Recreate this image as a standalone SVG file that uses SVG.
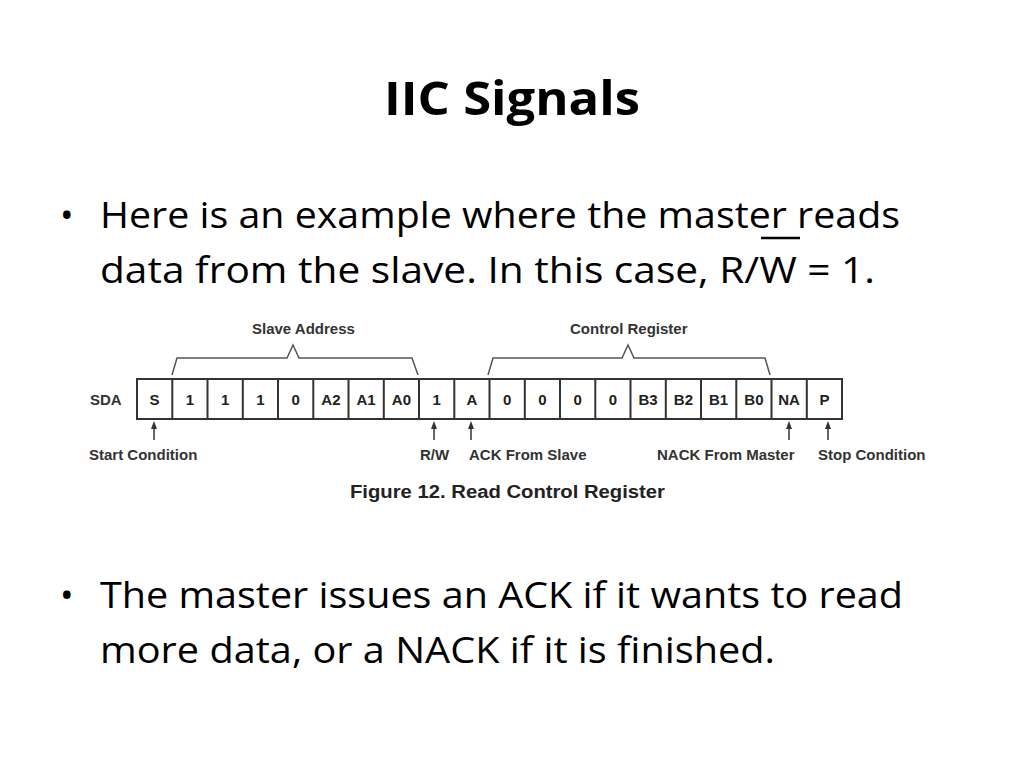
<svg xmlns="http://www.w3.org/2000/svg" width="1024" height="768" viewBox="0 0 1024 768">
<style>
.t{font-family:"Open Sans","Liberation Sans",sans-serif;font-size:36px;fill:#000}
.f{font-family:"Liberation Sans",Arial,sans-serif;font-weight:bold;font-size:15px;fill:#333}
.c{font-family:"Liberation Sans",Arial,sans-serif;font-weight:bold;font-size:15px;fill:#222;text-anchor:middle}
.b{fill:#fff;stroke:#333;stroke-width:2}
.l{fill:none;stroke:#555;stroke-width:1.5}
</style>
<rect width="1024" height="768" fill="#fff"/>
<text x="512" y="115" text-anchor="middle" font-family="Open Sans,Liberation Sans,sans-serif" font-weight="bold" font-size="46" textLength="256" lengthAdjust="spacingAndGlyphs">IIC Signals</text>
<text class="t" x="60" y="228">•</text>
<text class="t" x="100" y="228" textLength="800" lengthAdjust="spacingAndGlyphs">Here is an example where the master reads</text>
<text class="t" x="100" y="283" textLength="775" lengthAdjust="spacingAndGlyphs">data from the slave.  In this case, R/W = 1.</text>
<line x1="761" y1="238" x2="800" y2="238" stroke="#000" stroke-width="2.5"/>
<text class="t" x="60" y="608">•</text>
<text class="t" x="100" y="608" textLength="803" lengthAdjust="spacingAndGlyphs">The master issues an ACK if it wants to read</text>
<text class="t" x="100" y="663" textLength="675" lengthAdjust="spacingAndGlyphs">more data, or a NACK if it is finished.</text>
<g id="braces" class="l">
<path d="M172,375 L177,358 L287,358 L293,345 L299,358 L412,358 L418,375"/>
<path d="M488,375 L493,358 L622,358 L628,345 L634,358 L765,358 L770,375"/>
</g>
<text class="f" x="252" y="334">Slave Address</text>
<text class="f" x="570" y="334">Control Register</text>
<text class="f" x="90" y="405">SDA</text>
<g id="cells">
<rect class="b" x="137" y="379" width="705" height="40"/>
<g stroke="#333" stroke-width="2">
<path d="M172.3,379V419M207.5,379V419M242.8,379V419M278,379V419M313.3,379V419M348.5,379V419M383.8,379V419M419,379V419M454.3,379V419M489.5,379V419M524.8,379V419M560,379V419M595.3,379V419M630.5,379V419M665.8,379V419M701,379V419M736.3,379V419M771.5,379V419M806.8,379V419"/>
</g>
<g>
<text class="c" x="154.6" y="405">S</text><text class="c" x="189.9" y="405">1</text><text class="c" x="225.1" y="405">1</text><text class="c" x="260.4" y="405">1</text><text class="c" x="295.6" y="405">0</text><text class="c" x="330.9" y="405">A2</text><text class="c" x="366.1" y="405">A1</text><text class="c" x="401.4" y="405">A0</text><text class="c" x="436.6" y="405">1</text><text class="c" x="471.9" y="405">A</text><text class="c" x="507.1" y="405">0</text><text class="c" x="542.4" y="405">0</text><text class="c" x="577.6" y="405">0</text><text class="c" x="612.9" y="405">0</text><text class="c" x="648.1" y="405">B3</text><text class="c" x="683.4" y="405">B2</text><text class="c" x="718.6" y="405">B1</text><text class="c" x="753.9" y="405">B0</text><text class="c" x="789.1" y="405">NA</text><text class="c" x="824.4" y="405">P</text>
</g>
</g>
<g id="connectors" stroke="#333" stroke-width="1.5" fill="#333">
<line x1="154" y1="440" x2="154" y2="426"/><path d="M151,429 L154,421 L157,429Z" stroke="none"/>
<line x1="434" y1="440" x2="434" y2="426"/><path d="M431,429 L434,421 L437,429Z" stroke="none"/>
<line x1="471" y1="440" x2="471" y2="426"/><path d="M468,429 L471,421 L474,429Z" stroke="none"/>
<line x1="789" y1="440" x2="789" y2="426"/><path d="M786,429 L789,421 L792,429Z" stroke="none"/>
<line x1="828" y1="440" x2="828" y2="426"/><path d="M825,429 L828,421 L831,429Z" stroke="none"/>
</g>
<g class="f" font-size="14">
<text x="89" y="460">Start Condition</text>
<text x="420" y="460">R/W</text>
<text x="469" y="460">ACK From Slave</text>
<text x="657" y="460">NACK From Master</text>
<text x="818" y="460">Stop Condition</text>
</g>
<text x="350" y="498" font-family="Liberation Sans,Arial,sans-serif" font-weight="bold" font-size="18" fill="#222" textLength="315" lengthAdjust="spacingAndGlyphs">Figure 12.  Read Control Register</text>
</svg>
